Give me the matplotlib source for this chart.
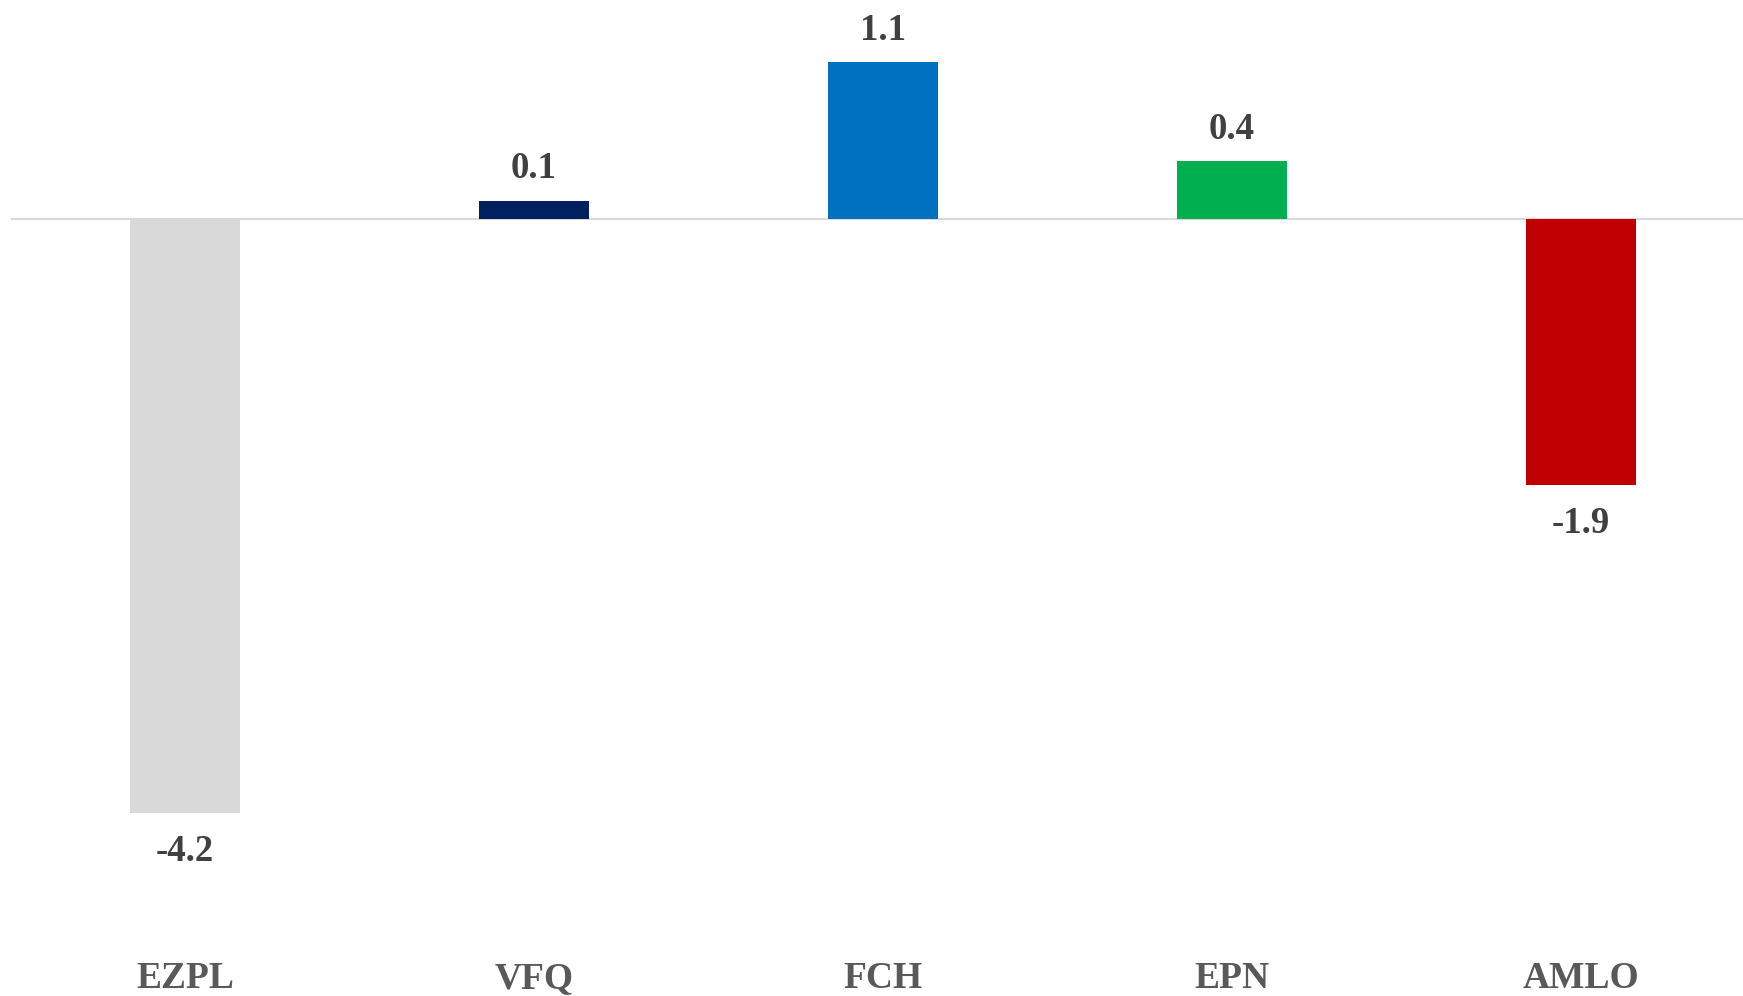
import matplotlib
matplotlib.use("Agg")
import matplotlib.pyplot as plt
import matplotlib.transforms as mtransforms

# datos del grafico
categorias = ["EZPL", "VFQ", "FCH", "EPN", "AMLO"]
valores = [-4.20, 0.13, 1.11, 0.41, -1.88]
etiquetas = ["-4.2", "0.1", "1.1", "0.4", "-1.9"]
colores = ["#D9D9D9", "#002060", "#0070C0", "#00B050", "#C00000"]

plt.rcParams["font.family"] = ["Liberation Serif", "DejaVu Serif"]

fig = plt.figure(figsize=(17.43, 9.96), dpi=100)
# el area de dibujo se sale un poco por la derecha, como en el original
ax = fig.add_axes([10.5 / 1743, 0.0, 1745 / 1743, 1.0])

x = range(len(categorias))
ax.bar(x, valores, width=0.315, color=colores, zorder=3)
ax.axhline(0, color="#D9D9D9", lw=1.5, zorder=2)

ax.set_xlim(-0.5, 4.5)
ax.set_ylim(-5.494, 1.548)

# etiquetas de valor
for xi, v, t in zip(x, valores, etiquetas):
    off = 16 if v > 0 else -34.5
    ax.annotate(t, (xi, v), xytext=(0, off), textcoords="offset points",
                ha="center", va="baseline", fontsize=26.5, fontweight="bold",
                color="#404040")

# etiquetas de categoria abajo
trans = mtransforms.blended_transform_factory(ax.transData, ax.transAxes)
for xi, c in zip(x, categorias):
    ax.text(xi, 8 / 996, c, transform=trans, ha="center", va="baseline",
            fontsize=27, fontweight="bold", color="#595959")

ax.axis("off")
fig.savefig("out.png", dpi=100, facecolor="white")
